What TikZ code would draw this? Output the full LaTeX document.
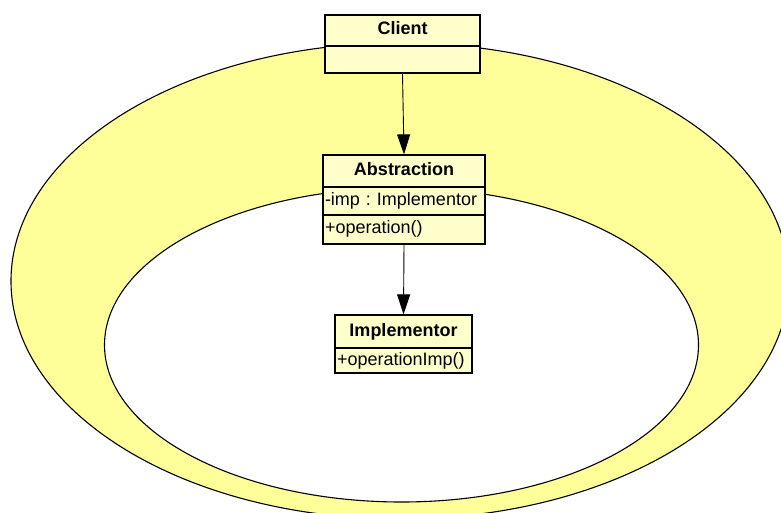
\documentclass[tikz,border=0pt]{standalone}
\usepackage{fontspec}
\setmainfont{Liberation Sans}
\usetikzlibrary{arrows.meta}
\definecolor{ringfill}{HTML}{FFFF99}
\definecolor{classfill}{HTML}{FFFFCC}
\newcommand\umlfont{\fontsize{18bp}{20bp}\selectfont\frenchspacing}
\begin{document}
\begin{tikzpicture}[x=1bp,y=-1bp,
  classhead/.style={draw, line width=1.2bp, fill=classfill, inner sep=0pt,
    font=\umlfont\bfseries, text height=13bp, text depth=4bp},
  classrow/.style={draw, line width=1.2bp, fill=classfill, inner xsep=2bp, inner ysep=0pt,
    align=left, font=\umlfont, text height=13bp, text depth=4bp},
  ring/.style={draw, line width=1.1bp},
  conn/.style={-{Triangle[length=20bp,width=13bp]}, line width=0.9bp}]
\clip (0,0) rectangle (781,513);

% yellow ring behind the classes
\fill[ringfill] (400,281) ellipse [x radius=389, y radius=238];
\draw[ring] (400,281) ellipse [x radius=389, y radius=238];
\draw[ring, fill=white] (401.5,345) ellipse [x radius=297, y radius=157];

% Client
\node[classhead, minimum width=155bp, minimum height=31bp] (client) at (402.5,30.5) {Client};
\node[classrow, text width=151bp, minimum height=27bp] (clientbody) at (402.5,59.5) {};

% Abstraction
\node[classhead, minimum width=162bp, minimum height=32bp] (abstraction) at (404,171) {Abstraction};
\node[classrow, text width=158bp, minimum height=28bp] (abstractionattr) at (404,201) {-imp : Implementor};
\node[classrow, text width=158bp, minimum height=29bp] (abstractionop) at (404,229.5) {+operation()};

% Implementor
\node[classhead, minimum width=137bp, minimum height=33bp] (implementor) at (403.5,331.5) {Implementor};
\node[classrow, text width=133bp, minimum height=25bp] (implementorop) at (403.5,360.5) {+operationImp()};

% associations
\draw[conn] (clientbody.south) -- (abstraction.north);
\draw[conn] (abstractionop.south) -- (implementor.north);
\end{tikzpicture}
\end{document}
